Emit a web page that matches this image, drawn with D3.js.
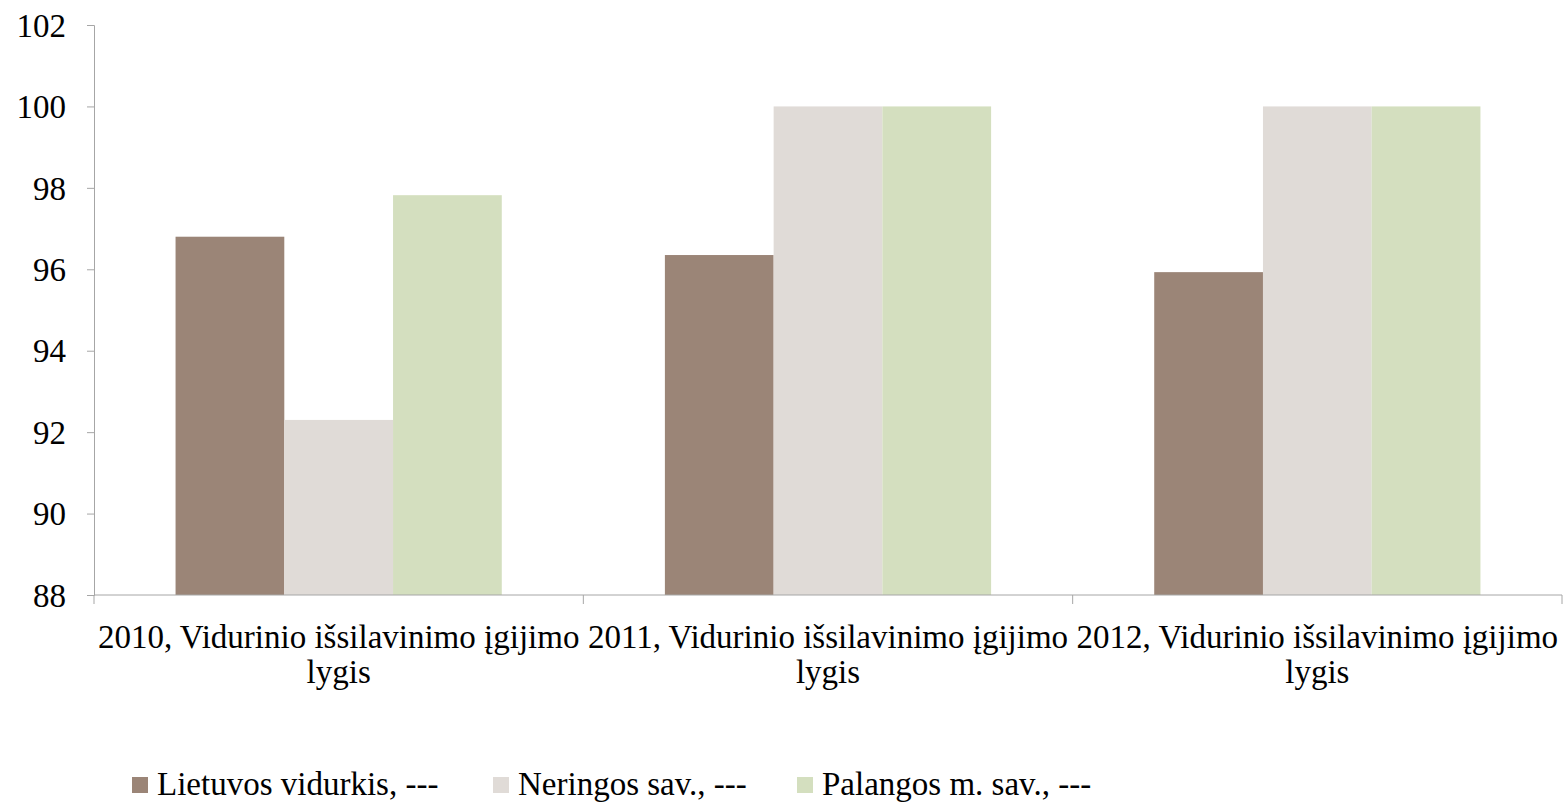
<!DOCTYPE html>
<html>
<head>
<meta charset="utf-8">
<script src="https://cdn.jsdelivr.net/npm/d3@7"></script>
<style>
  body { margin: 0; background: #fff; }
  svg text { font-family: "Liberation Serif", "DejaVu Serif", serif; fill: #000; }
  .axis path, .axis line { stroke: #a6a6a6; }
</style>
</head>
<body>
<svg id="chart" width="1566" height="802"></svg>
<script>
// Data
const categories = ["2010, Vidurinio išsilavinimo įgijimo lygis",
                    "2011, Vidurinio išsilavinimo įgijimo lygis",
                    "2012, Vidurinio išsilavinimo įgijimo lygis"];
const series = ["Lietuvos vidurkis, ---", "Neringos sav., ---", "Palangos m. sav., ---"];
const lietuvos = [96.8, 96.35, 95.93];
const neringos = [92.3, 100, 100];
const palangos = [97.82, 100, 100];
const yTicks = [88, 90, 92, 94, 96, 98, 100, 102];
const colors = ["#9b8577", "#e0dbd7", "#d4dfbf"];

const values = [lietuvos, neringos, palangos];

// Layout
const margin = {top: 25, right: 4, bottom: 207, left: 94};
const width = 1566, height = 802;
const fontSize = "33px";
const svg = d3.select("svg#chart");

const x = d3.scaleBand().domain(categories).range([margin.left, width - margin.right]);
const xInner = d3.scaleBand().domain(series).range([x.bandwidth() / 6, x.bandwidth() * 5 / 6]);
const y = d3.scaleLinear().domain([88, 102]).range([height - margin.bottom, margin.top]);

// Bars
const groups = svg.append("g").selectAll("g")
    .data(categories)
    .enter().append("g")
    .attr("transform", d => `translate(${x(d)},0)`);

groups.selectAll("rect")
    .data((d, i) => series.map((s, j) => ({s, v: values[j][i], j})))
    .enter().append("rect")
    .attr("x", d => xInner(d.s))
    .attr("width", xInner.bandwidth())
    .attr("y", d => y(d.v))
    .attr("height", d => y(88) - y(d.v))
    .attr("fill", d => colors[d.j]);

// Y axis
const yAxis = svg.append("g").attr("class", "axis")
    .attr("transform", `translate(${margin.left},0)`)
    .call(d3.axisLeft(y).tickValues(yTicks).tickSize(7).tickPadding(21).tickSizeOuter(7));
yAxis.selectAll("text").style("font-size", fontSize).attr("dy", "0.34em");

// X axis with boundary ticks
const xAxisG = svg.append("g").attr("class", "axis");
xAxisG.append("line")
    .attr("x1", margin.left).attr("x2", width - margin.right)
    .attr("y1", y(88)).attr("y2", y(88));
const bounds = categories.map(c => x(c)).concat([x(categories[2]) + x.bandwidth()]);
xAxisG.selectAll("line.tick").data(bounds).enter().append("line")
    .attr("class", "tick")
    .attr("x1", d => d).attr("x2", d => d)
    .attr("y1", y(88)).attr("y2", y(88) + 9);

// Category labels (wrapped in two lines)
const labels = svg.append("g").selectAll("text")
    .data(categories)
    .enter().append("text")
    .attr("text-anchor", "middle")
    .style("font-size", fontSize)
    .attr("transform", d => `translate(${x(d) + x.bandwidth() / 2},648)`);
labels.append("tspan").attr("x", 0).attr("y", 0).text(d => d.replace(/ lygis$/, ""));
labels.append("tspan").attr("x", 0).attr("y", 35).text("lygis");

// Legend
const legendX = [132, 493, 797];
const legend = svg.append("g").selectAll("g")
    .data(series)
    .enter().append("g")
    .attr("transform", (d, i) => `translate(${legendX[i]},777)`);
legend.append("rect").attr("width", 16).attr("height", 16).attr("fill", (d, i) => colors[i]);
legend.append("text").attr("x", 25).attr("y", 18).style("font-size", fontSize).text(d => d);
</script>
</body>
</html>
